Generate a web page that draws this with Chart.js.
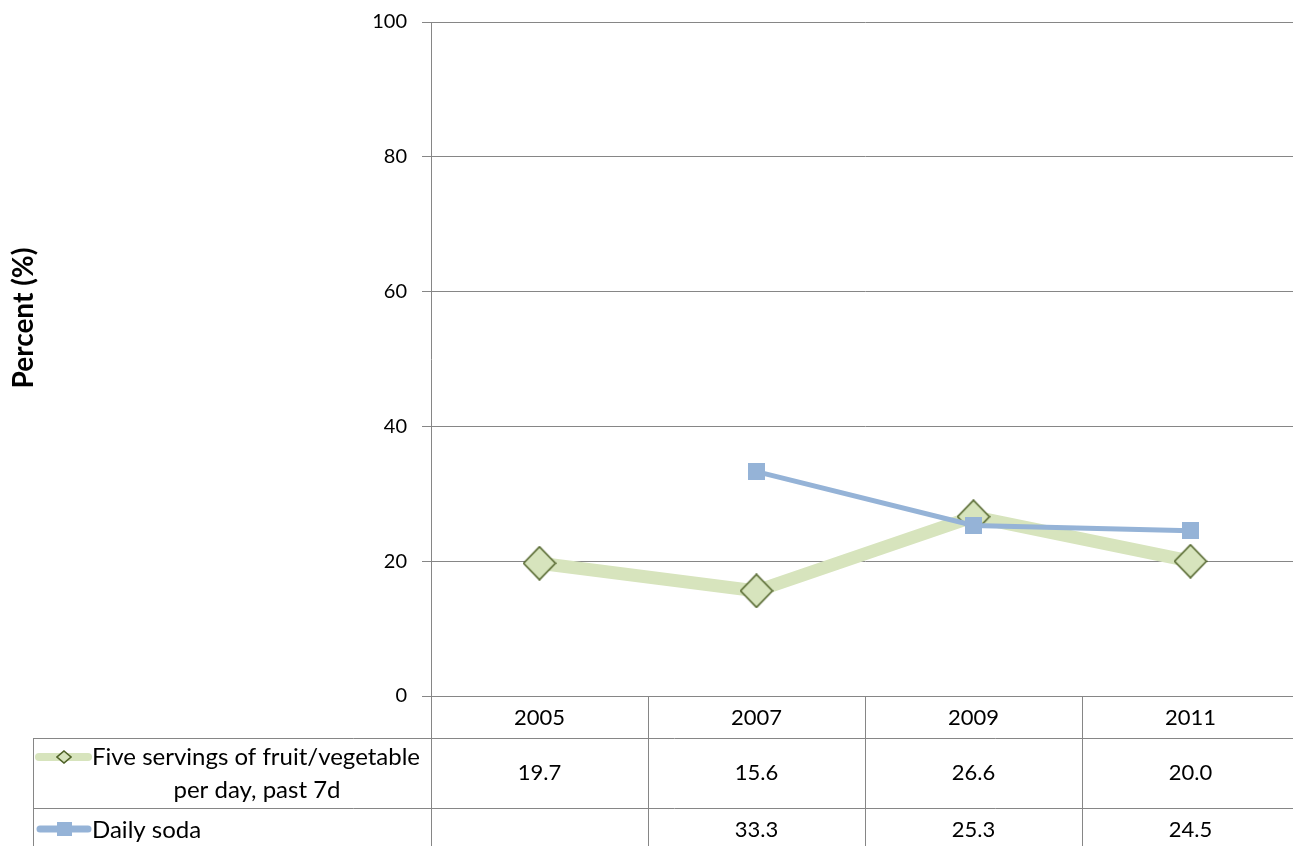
<!DOCTYPE html>
<html>
<head>
<meta charset="utf-8">
<script src="https://cdn.jsdelivr.net/npm/chart.js@4.4.0/dist/chart.umd.min.js"></script>
<style>
  html, body { margin: 0; padding: 0; background: #fff; overflow: hidden; }
  canvas { display: block; }
</style>
</head>
<body>
<!-- the original chart is cut off on the right, so the canvas runs a bit past the window -->
<canvas id="chart" width="1316" height="846"></canvas>
<script>
const years = ['2005', '2007', '2009', '2011'];
const fruitVeg = [19.7, 15.6, 26.6, 20.0];
const soda = [null, 33.3, 25.3, 24.5];
const seriesNames = ['Five servings of fruit/vegetable\nper day, past 7d', 'Daily soda'];
const yTicks = [0, 20, 40, 60, 80, 100];

const FONT = 'Lato, "Open Sans", sans-serif';
const GRID = '#868686';
const GREEN = '#d7e4bd';
const GREEN_EDGE = '#4f6228';
const BLUE = '#95b3d7';

function diamond(w, h) {
  const c = document.createElement('canvas');
  c.width = w + 2; c.height = h + 2;
  const g = c.getContext('2d');
  g.beginPath();
  g.moveTo(c.width / 2, 1);
  g.lineTo(c.width - 1, c.height / 2);
  g.lineTo(c.width / 2, c.height - 1);
  g.lineTo(1, c.height / 2);
  g.closePath();
  g.fillStyle = GREEN;
  g.fill();
  g.lineWidth = 1.6;
  g.strokeStyle = GREEN_EDGE;
  g.stroke();
  return c;
}
function square(w, h) {
  const c = document.createElement('canvas');
  c.width = w; c.height = h;
  const g = c.getContext('2d');
  g.fillStyle = BLUE;
  g.fillRect(0, 0, w, h);
  return c;
}
const diamondImg = diamond(32, 33);
const squareImg = square(17, 17);
const diamondSmall = diamond(14, 12);
const squareSmall = square(15, 14);

// data table under the plot + axis title
const dataTable = {
  id: 'dataTable',
  afterDraw(chart) {
    const ctx = chart.ctx;
    const x = chart.scales.x;
    const area = chart.chartArea;
    const right = chart.width;
    const rowTop = area.bottom;
    const r1 = rowTop + 42;
    const r2 = r1 + 70;
    const r3 = chart.height;
    const tableLeft = 33;
    const step = (area.right - area.left) / years.length;

    ctx.save();
    ctx.strokeStyle = GRID;
    ctx.lineWidth = 1;
    ctx.beginPath();
    ctx.moveTo(tableLeft, r1 + 0.5); ctx.lineTo(right, r1 + 0.5);
    ctx.moveTo(tableLeft, r2 + 0.5); ctx.lineTo(right, r2 + 0.5);
    ctx.moveTo(tableLeft + 0.5, r1); ctx.lineTo(tableLeft + 0.5, r3);
    for (let i = 0; i <= years.length; i++) {
      const cx = Math.round(area.left + i * step) + 0.5;
      ctx.moveTo(cx, rowTop); ctx.lineTo(cx, r3);
    }
    ctx.stroke();

    ctx.fillStyle = '#000';
    ctx.font = '22px ' + FONT;
    ctx.textAlign = 'center';
    ctx.textBaseline = 'middle';
    years.forEach((yr, i) => {
      const cx = x.getPixelForValue(i);
      ctx.fillText(yr, cx, (rowTop + r1) / 2 + 1);
      ctx.fillText(fruitVeg[i].toFixed(1), cx, (r1 + r2) / 2);
      if (soda[i] !== null) ctx.fillText(soda[i].toFixed(1), cx, 830);
    });

    // legend keys
    ctx.lineCap = 'round';
    ctx.strokeStyle = GREEN;
    ctx.lineWidth = 8;
    ctx.beginPath();
    ctx.moveTo(39, 757); ctx.lineTo(88, 757);
    ctx.stroke();
    ctx.drawImage(diamondSmall, 64 - diamondSmall.width / 2, 757 - diamondSmall.height / 2);

    ctx.strokeStyle = BLUE;
    ctx.lineWidth = 7;
    ctx.beginPath();
    ctx.moveTo(40, 829); ctx.lineTo(88, 829);
    ctx.stroke();
    ctx.drawImage(squareSmall, 64 - squareSmall.width / 2, 829 - squareSmall.height / 2);

    // legend labels
    ctx.font = '24px ' + FONT;
    const lines = seriesNames[0].split('\n');
    ctx.textAlign = 'left';
    ctx.fillText(lines[0], 92, 757);
    ctx.textAlign = 'center';
    ctx.fillText(lines[1], 257, 790);
    ctx.textAlign = 'left';
    ctx.fillText(seriesNames[1], 92, 830);

    // y axis title
    ctx.translate(24, 318);
    ctx.rotate(-Math.PI / 2);
    ctx.textAlign = 'center';
    ctx.font = 'bold 28px ' + FONT;
    ctx.fillText('Percent (%)', 0, 0);
    ctx.restore();
  }
};

new Chart(document.getElementById('chart'), {
  type: 'line',
  data: {
    labels: years,
    datasets: [
      {
        label: seriesNames[0],
        data: fruitVeg,
        borderColor: GREEN,
        borderWidth: 13,
        pointStyle: diamondImg,
        order: 1
      },
      {
        label: seriesNames[1],
        data: soda,
        borderColor: BLUE,
        borderWidth: 5,
        pointStyle: squareImg,
        order: 0
      }
    ]
  },
  options: {
    responsive: false,
    animation: false,
    layout: { padding: { top: 22, bottom: 150, left: 0, right: 0 } },
    plugins: {
      legend: { display: false },
      tooltip: { enabled: false }
    },
    elements: { line: { tension: 0 } },
    scales: {
      x: {
        offset: true,
        grid: { display: false },
        border: { display: false },
        ticks: { display: false },
        afterFit(s) { s.height = 0; }
      },
      y: {
        min: 0,
        max: 100,
        afterBuildTicks(s) { s.ticks = yTicks.map(v => ({ value: v })); },
        grid: { color: GRID, lineWidth: 1, tickLength: 9 },
        border: { color: GRID },
        ticks: {
          color: '#000',
          font: { family: FONT, size: 20 },
          padding: 15
        },
        afterFit(s) {
          s.width = 431;
          s.paddingTop = 0;
          s.paddingBottom = 0;
        }
      }
    }
  },
  plugins: [dataTable]
});
</script>
</body>
</html>
